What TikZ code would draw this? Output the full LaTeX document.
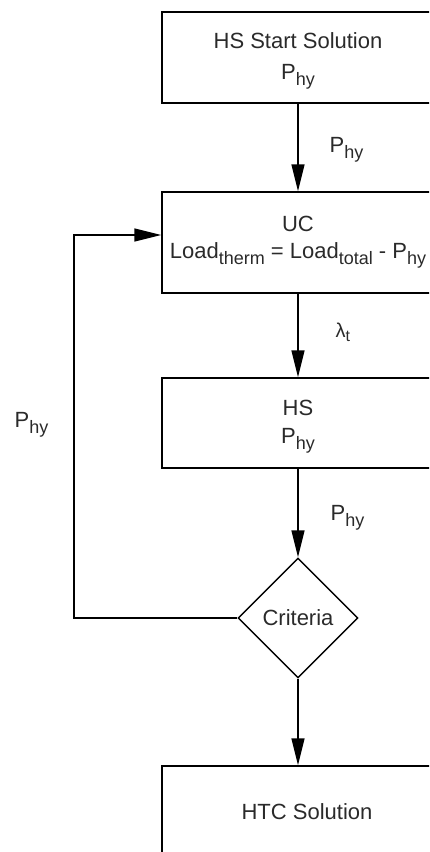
\documentclass[tikz,border=0pt]{standalone}
\usepackage{fontspec}
\setmainfont{Liberation Sans}
\usetikzlibrary{arrows.meta,shapes.geometric}
\definecolor{inkgrey}{HTML}{2A2A2A}
\newcommand\lsub[1]{\raisebox{-6pt}{\fontsize{18}{18}\selectfont #1}}
\newcommand\topstrut{\rule{0pt}{23pt}}
\begin{document}
\begin{tikzpicture}[x=1pt,y=-1pt,
  line width=1.4pt,
  every node/.style={text=inkgrey},
  stepbox/.style={draw=black, rectangle, minimum width=272pt, inner sep=0pt, align=center,
    font=\fontsize{22}{30}\selectfont},
  decision/.style={draw=black, diamond, minimum width=120pt, minimum height=120pt, inner sep=0pt,
    font=\fontsize{22}{26}\selectfont},
  flowlabel/.style={anchor=base west, inner sep=0pt, font=\fontsize{22}{26}\selectfont},
  arr/.style={draw=black, -{Triangle[length=27pt,width=13pt]}}
]
\clip (0,0) rectangle (429,852);

% process boxes
\node[stepbox, minimum height=91pt] (start) at (298,57.5)
  {\topstrut HS Start Solution\\[1pt] P\lsub{hy}};
\node[stepbox, minimum height=101pt, font=\fontsize{22}{27}\selectfont] (uc) at (298,242.5)
  {UC\\ Load\lsub{therm} = Load\lsub{total} - P\lsub{hy}};
\node[stepbox, minimum height=90pt, font=\fontsize{22}{28}\selectfont] (hs) at (298,423)
  {\topstrut HS\\ P\lsub{hy}};
\node[decision] (crit) at (298,618) {Criteria};
\node[stepbox, minimum height=92pt] (htc) at (298,812)
  {\hspace*{18pt}HTC Solution};

% loop corner
\coordinate (fbk) at (74,618);

% connectors
\draw[arr] (start) -- (uc);
\draw[arr] (uc) -- (hs);
\draw[arr] (hs) -- (crit);
\draw[arr] (crit) -- (htc);
\draw[arr] (crit.west) -- (fbk) |- ([yshift=7.5pt]uc.west);

% connector labels
\node[flowlabel] (l1) at (329,152) {P\lsub{hy}};
\node[flowlabel, font=\fontsize{20}{22}\selectfont] (l2) at (335,337) {λ\raisebox{-4pt}{\fontsize{16}{16}\selectfont t}};
\node[flowlabel] (l3) at (330,520) {P\lsub{hy}};
\node[flowlabel] (l4) at (14,427) {P\lsub{hy}};
\end{tikzpicture}
\end{document}
